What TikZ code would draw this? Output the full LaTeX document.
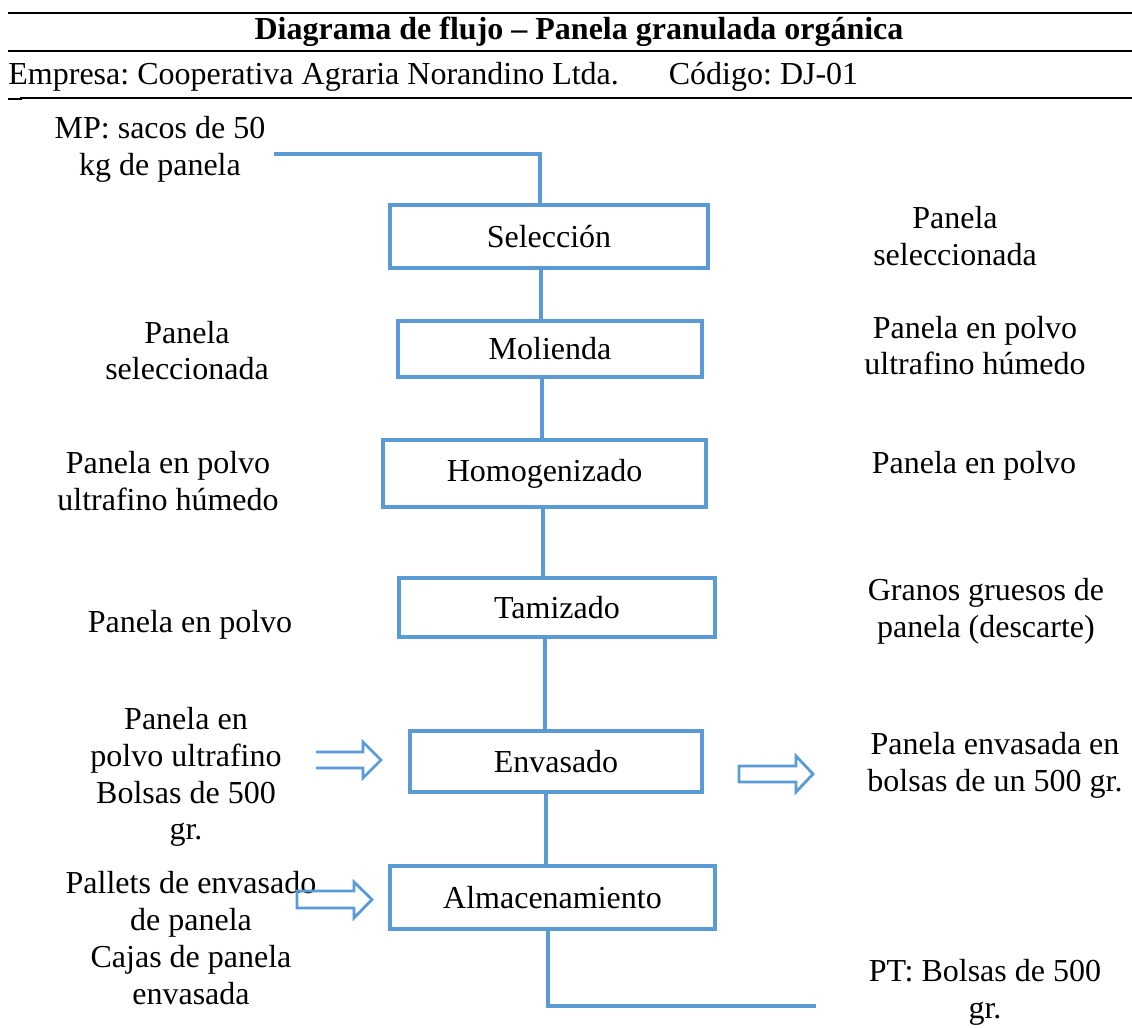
\documentclass[tikz,border=0pt]{standalone}
\usepackage{fontspec}
\setmainfont{Liberation Serif}
\definecolor{azul}{RGB}{91,155,213}
\frenchspacing

\begin{document}
\begin{tikzpicture}[x=0.5pt, y=-0.5pt,
  font=\fontsize{16pt}{18.4pt}\selectfont,
  etapa/.style 2 args={draw=azul, line width=1.6pt, minimum width=#1, minimum height=#2, inner sep=0pt},
  texto/.style={align=center, inner sep=0pt},
  flujo/.style={draw=azul, line width=1.8pt},
  flecha/.style={draw=azul, line width=1.4pt, line join=miter}]

 \useasboundingbox (0,0) rectangle (1132,1028);

 \draw[line width=1.2pt] (8,13) -- (1132,13);
 \draw[line width=1.2pt] (8,51) -- (1132,51);
 \draw[line width=0.6pt] (20,98) -- (1132,98);
 \draw[line width=1pt] (8,98.5) -- (22,98.5);

 \node[texto, font=\fontsize{16pt}{18.4pt}\selectfont\bfseries] (titulo) at (579,32) {Diagrama de flujo – Panela granulada orgánica};
 \node[texto, anchor=base west] (empresa) at (8,84) {Empresa: Cooperativa Agraria Norandino Ltda.\hspace{25pt}Código: DJ-01};

 \node[etapa={159pt}{31.5pt}] (sel) at (549,236.5) {Selección};
 \node[etapa={152pt}{28pt}] (mol) at (550,349) {Molienda};
 \node[etapa={161.5pt}{33.5pt}] (hom) at (544.5,473.5) {Homogenizado};
 \node[etapa={158pt}{29.5pt}] (tam) at (557,607.5) {Tamizado};
 \node[etapa={146pt}{30.5pt}] (env) at (556,761.5) {Envasado};
 \node[etapa={162.5pt}{31.5pt}] (alm) at (552.5,897.5) {Almacenamiento};

 \node[texto, inner xsep=4pt] (mp) at (160,149.5) {MP: sacos de 50\\kg de panela};
 \node[texto] (in-mol) at (187,350.5) {Panela\\seleccionada};
 \node[texto] (in-hom) at (168,481) {Panela en polvo\\ultrafino húmedo};
 \node[texto] (in-tam) at (190,625) {Panela en polvo};
 \node[texto] (in-env) at (186,777) {Panela en\\polvo ultrafino\\Bolsas de 500\\gr.};
 \node[texto] (in-alm) at (191,938) {Pallets de envasado\\de panela\\Cajas de panela\\envasada};

 \node[texto] (out-sel) at (955,236) {Panela\\seleccionada};
 \node[texto] (out-mol) at (975,345.5) {Panela en polvo\\ultrafino húmedo};
 \node[texto] (out-hom) at (974,466) {Panela en polvo};
 \node[texto] (out-tam) at (986,611.5) {Granos gruesos de\\panela (descarte)};
 \node[texto] (out-env) at (995,765) {Panela envasada en\\bolsas de un 500 gr.};
 \node[texto] (pt) at (985,992.5) {PT: Bolsas de 500\\gr.};

 \coordinate (fin) at (816,1006);

 \draw[flujo] ([yshift=-2.25pt]mp.east) -| ([xshift=-4.5pt]sel.north);
 \draw[flujo] ([xshift=-4pt]sel.south) -- ([xshift=-4pt]sel.south |- mol.north);
 \draw[flujo] ([xshift=-4pt]mol.south) -- ([xshift=-4pt]mol.south |- hom.north);
 \draw[flujo] ([xshift=-0.75pt]hom.south) -- ([xshift=-0.75pt]hom.south |- tam.north);
 \draw[flujo] ([xshift=-6pt]tam.south) -- ([xshift=-6pt]tam.south |- env.north);
 \draw[flujo] ([xshift=-5pt]env.south) -- ([xshift=-5pt]env.south |- alm.north);
 \draw[flujo] ([xshift=-2.25pt]alm.south) |- (fin);

 \draw[flecha] (316,752) -- (363,752) -- (363,742) -- (381,760) -- (363,778) -- (363,768) -- (316,768);
 \draw[flecha] (739,766) -- (796,766) -- (796,756) -- (813,774) -- (796,792) -- (796,782) -- (739,782) -- cycle;
 \draw[flecha] (297,891) -- (354,891) -- (354,882) -- (372,899.5) -- (354,918) -- (354,908) -- (297,908) -- cycle;

\end{tikzpicture}
\end{document}
